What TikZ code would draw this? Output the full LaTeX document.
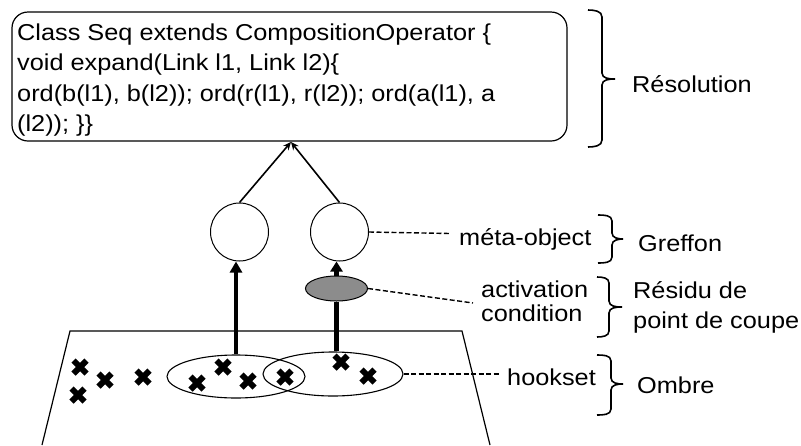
\documentclass[tikz,border=0pt]{standalone}
\usepackage{fontspec}
\setmainfont{Liberation Sans}[FakeStretch=1.1]
\usetikzlibrary{arrows.meta,shapes.geometric}
\begin{document}
\begin{tikzpicture}[x=1pt,y=-1pt,
  txt/.style={inner sep=0pt,anchor=base west,font=\fontsize{23}{27}\selectfont},
  ring/.style={circle,draw,line width=1pt,minimum size=58pt,inner sep=0pt},
  hook/.style={ellipse,draw,line width=1.1pt,inner sep=0pt},
  thin/.style={line width=1.6pt,-{Stealth[length=8pt,width=7pt]}},
  thick/.style={line width=4.5pt},
  lead/.style={line width=1.4pt,dash pattern=on 5pt off 2.5pt},
  brace/.style={line width=1.6pt},
  xm/.pic={\draw[line width=6pt] (-6.5,-6.5)--(6.5,6.5) (-6.5,6.5)--(6.5,-6.5);}
]
\useasboundingbox (0,0) rectangle (801,445);

% code box
\node[draw,line width=1.2pt,rounded corners=16pt,minimum width=555pt,minimum height=129pt,inner sep=0pt] (box) at (289.5,76.5) {};
\node[txt] (l1) at (17,40) {Class Seq extends CompositionOperator \{};
\node[txt] (l2) at (17,70.5) {void expand(Link l1, Link l2)\{};
\node[txt] (l3) at (17,101) {ord(b(l1), b(l2)); ord(r(l1), r(l2)); ord(a(l1), a};
\node[txt] (l4) at (17,131) {(l2)); \}\}};

% meta-objects
\node[ring] (c1) at (239.5,232) {};
\node[ring] (c2) at (339.5,232) {};
\coordinate (meet) at (291,142);
\draw[thin] (c1.north) -- (meet);
\draw[thin] (c2.north) -- (meet);

% activation condition
\node[ellipse,draw,line width=1pt,fill=black!45,minimum width=62pt,minimum height=25pt,inner sep=0pt] (g) at (336.5,288.5) {};

% shadow plane
\draw[line width=1.2pt] (42,445) -- (70,331) -- (462,331) -- (490,445);

% hooksets
\node[hook,minimum width=138pt,minimum height=43pt] (h1) at (236,376.5) {};
\node[hook,minimum width=140pt,minimum height=44pt] (h2) at (333,374) {};

% thick arrows
\draw[thick,-{Triangle[length=11pt,width=12pt]}] (h1.north) -- (h1.north |- c1.south);
\draw[thick] (g.south) -- (g.south |- h2.north);
\draw[thick,-{Triangle[length=10pt,width=12pt]}] (g.north) -- (g.north |- c2.south);

% join points
\foreach \p/\q in {80/367,105/380,78/395,143/377,197/383,223/367,248/381,285/377,341/362,368/376}
  \pic at (\p,\q) {xm};

% labels and leaders
\node[txt] (meta) at (459,245) {méta-object};
\coordinate (m1) at (450,233.5);
\draw[lead] (c2.east) -- (m1);
\node[txt] (act1) at (481,297) {activation};
\node[txt] (act2) at (481,321) {condition};
\coordinate (m2) at (473,303);
\draw[lead] (g.east) -- (m2);
\node[txt] (hk) at (507,385) {hookset};
\coordinate (m3) at (499,374);
\draw[lead] (h2.east) -- (m3);

% braces
\draw[brace] (588,10) to[out=0,in=90] (602,17) -- (602,73) to[out=-90,in=180] (615,79);
\draw[brace] (615,79) to[out=180,in=90] (602,85) -- (602,140) to[out=-90,in=0] (588,147);
\node[txt] (res) at (632,92) {Résolution};

\draw[brace] (598,215) to[out=0,in=90] (612,221) -- (612,233) to[out=-90,in=180] (623,239);
\draw[brace] (623,239) to[out=180,in=90] (612,245) -- (612,257) to[out=-90,in=0] (598,263);
\node[txt] (gre) at (638,251.5) {Greffon};

\draw[brace] (597,277) to[out=0,in=90] (609,283) -- (609,301) to[out=-90,in=180] (622,307);
\draw[brace] (622,307) to[out=180,in=90] (609,313) -- (609,331) to[out=-90,in=0] (597,337);
\node[txt] (rs1) at (633,298) {Résidu de};
\node[txt] (rs2) at (633,328) {point de coupe};

\draw[brace] (597,355) to[out=0,in=90] (611,361) -- (611,378) to[out=-90,in=180] (623,384);
\draw[brace] (623,384) to[out=180,in=90] (611,390) -- (611,409) to[out=-90,in=0] (597,415);
\node[txt] (omb) at (637,393) {Ombre};
\end{tikzpicture}
\end{document}
